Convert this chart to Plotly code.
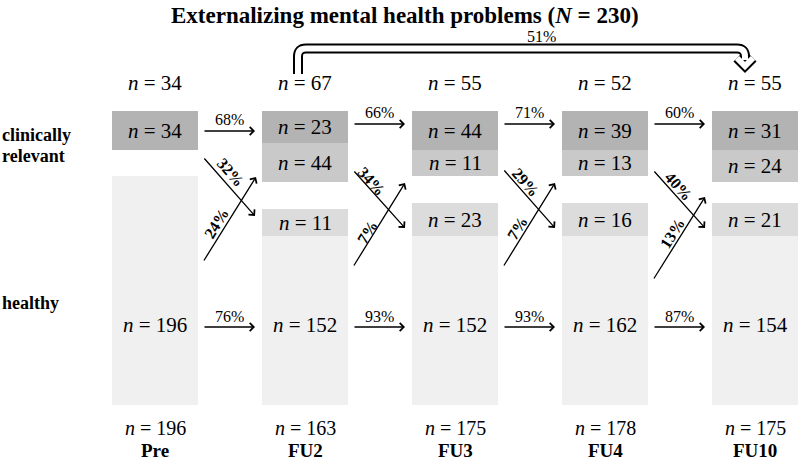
import math
import plotly.graph_objects as go

# ---------------- data ----------------
timepoints = ["Pre", "FU2", "FU3", "FU4", "FU10"]
n_clinical_total = [34, 67, 55, 52, 55]
n_healthy_total = [196, 163, 175, 178, 175]
n_stay_clinical = [34, 23, 44, 39, 31]        # stayed clinically relevant
n_new_clinical = [None, 44, 11, 13, 24]       # became clinically relevant
n_new_healthy = [None, 11, 23, 16, 21]        # became healthy
n_stay_healthy = [196, 152, 152, 162, 154]    # stayed healthy
pct_stay_clinical = [68, 66, 71, 60]
pct_stay_healthy = [76, 93, 93, 87]
pct_to_healthy = [32, 34, 29, 40]
pct_to_clinical = [24, 7, 7, 13]
pct_long_term = 51
total_N = 230

# ---------------- layout constants ----------------
FONT = "Liberation Serif"
W, H = 800, 461
N_SIZE = 21
P_SIZE = 16
col_left = [112, 262, 412, 562, 712]
col_w = 86
dark_box = [(111, 150), (111, 143), (111, 150), (111, 150), (111, 150)]
mid_box = [None, (143, 182), (150, 176), (150, 176), (150, 182)]
lmid_box = [None, (209, 236), (203, 236), (203, 236), (203, 236)]
light_box = [(176, 405), (236, 405), (236, 405), (236, 405), (236, 405)]
C_DARK, C_MID, C_LMID, C_LIGHT = "#b3b3b3", "#c9c9c9", "#dcdcdc", "#f0f0f0"

top_arrow_y = [131, 124, 124, 124]
bot_arrow_y = 327
down_arrows = [((203, 157), (255, 216)), ((353, 170), (405, 228)),
               ((503, 169), (555, 228)), ((653, 170), (705, 228))]
up_arrows = [((203, 262), (256, 177)), ((353, 267), (405, 183)),
             ((503, 267), (555, 183)), ((653, 280), (705, 197))]
down_lbl = [(231, 172), (372, 181), (526, 182), (679, 186)]
up_lbl = [(216, 223), (367, 232), (517, 228), (672, 233)]

fig = go.Figure()
fig.add_trace(go.Scatter(x=[0, W], y=[0, H], mode="markers",
                         marker=dict(opacity=0), hoverinfo="skip", showlegend=False))

shapes = []
ann = []


def rect(x0, y0, x1, y1, c):
    shapes.append(dict(type="rect", xref="x", yref="y", x0=x0, x1=x1, y0=y0, y1=y1,
                       fillcolor=c, line=dict(width=0), layer="below"))


def txt(x, y, s, size=N_SIZE, bold=False, xanchor="center", angle=0, pad=1):
    if bold:
        s = "<b>" + s + "</b>"
    ann.append(dict(x=x, y=y, xref="x", yref="y", text=s, showarrow=False,
                    xanchor=xanchor, yanchor="middle", textangle=angle, borderpad=pad,
                    font=dict(family=FONT, size=size, color="black")))


def arrow(tail, head):
    ann.append(dict(x=head[0], y=head[1], ax=tail[0], ay=tail[1], xref="x", yref="y",
                    axref="x", ayref="y", text="", showarrow=True, arrowhead=4,
                    arrowsize=1.2, arrowwidth=1.3, arrowcolor="black", standoff=0,
                    startstandoff=0))


def nl(v):
    return "<i>n</i> = %d" % v


for i, tp in enumerate(timepoints):
    x0 = col_left[i]
    x1 = x0 + col_w
    xc = (x0 + x1) / 2
    rect(x0, dark_box[i][0], x1, dark_box[i][1], C_DARK)
    txt(xc, sum(dark_box[i]) / 2, nl(n_stay_clinical[i]))
    if mid_box[i]:
        rect(x0, mid_box[i][0], x1, mid_box[i][1], C_MID)
        txt(xc, sum(mid_box[i]) / 2, nl(n_new_clinical[i]))
    if lmid_box[i]:
        rect(x0, lmid_box[i][0], x1, lmid_box[i][1], C_LMID)
        txt(xc, sum(lmid_box[i]) / 2, nl(n_new_healthy[i]))
    rect(x0, light_box[i][0], x1, light_box[i][1], C_LIGHT)
    txt(xc, 325, nl(n_stay_healthy[i]))
    txt(xc, 83, nl(n_clinical_total[i]))
    txt(xc, 428, nl(n_healthy_total[i]), size=20, pad=0)
    txt(xc, 450, tp, size=19, bold=True, pad=0)

for j in range(4):
    xa = col_left[j] + col_w + 5
    xb = col_left[j + 1] - 7
    arrow((xa, top_arrow_y[j]), (xb, top_arrow_y[j]))
    txt((xa + xb) / 2, top_arrow_y[j] - 12, "%d%%" % pct_stay_clinical[j], size=P_SIZE)
    arrow((xa, bot_arrow_y), (xb, bot_arrow_y))
    txt((xa + xb) / 2, bot_arrow_y - 11, "%d%%" % pct_stay_healthy[j], size=P_SIZE)
    (t, h) = down_arrows[j]
    arrow(t, h)
    ang = math.degrees(math.atan2(h[1] - t[1], h[0] - t[0]))
    txt(down_lbl[j][0], down_lbl[j][1], "%d%%" % pct_to_healthy[j], size=P_SIZE, bold=True, angle=ang)
    (t, h) = up_arrows[j]
    arrow(t, h)
    ang = math.degrees(math.atan2(h[1] - t[1], h[0] - t[0]))
    txt(up_lbl[j][0], up_lbl[j][1], "%d%%" % pct_to_clinical[j], size=P_SIZE, bold=True, angle=ang)

# row labels
txt(0, 135, "clinically", size=18, bold=True, xanchor="left")
txt(0, 156, "relevant", size=18, bold=True, xanchor="left")
txt(0, 303, "healthy", size=18, bold=True, xanchor="left")

# title
txt(405, 15, "Externalizing mental health problems (<i>N</i> = %d)" % total_N, size=23, bold=True)

# long-term bracket arrow (FU2 -> FU10)
bx0, bx1, by, bbot, bend = 298, 745, 48.5, 74, 60
path = (f"M {bx0},{bbot} L {bx0},{by+8} Q {bx0},{by} {bx0+8},{by} "
        f"L {bx1-8},{by} Q {bx1},{by} {bx1},{by+8} L {bx1},{bend}")
head = f"M {bx1-8},{bend-2} L {bx1},{bend+6} L {bx1+8},{bend-2}"
for p in (path, head):
    shapes.append(dict(type="path", xref="x", yref="y", path=p,
                       line=dict(color="black", width=10), layer="above"))
for p in (path, head):
    shapes.append(dict(type="path", xref="x", yref="y", path=p,
                       line=dict(color="white", width=6), layer="above"))
txt((bx0 + bx1) / 2 + 20, 36, "%d%%" % pct_long_term, size=P_SIZE)

fig.update_layout(
    width=W, height=H, margin=dict(l=0, r=0, t=0, b=0),
    plot_bgcolor="white", paper_bgcolor="white",
    xaxis=dict(range=[0, W], visible=False, fixedrange=True),
    yaxis=dict(range=[H, 0], visible=False, fixedrange=True),
    shapes=shapes, annotations=ann, showlegend=False,
)
fig.write_html("out.html", config={"displayModeBar": False},
               post_script="document.body.style.margin='0';document.body.style.overflow='hidden';")
